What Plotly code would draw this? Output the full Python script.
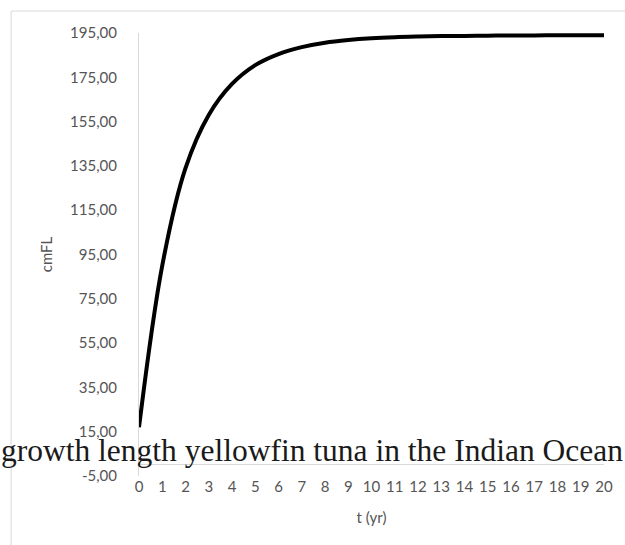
import plotly.graph_objects as go

# Data
t_years = [0, 1, 2, 3, 4, 5, 6, 7, 8, 9, 10, 11, 12, 13, 14, 15, 16, 17, 18, 19, 20]
length_cm = [17.0, 90.0, 134.0, 158.0, 172.0, 180.5, 185.5, 188.6, 190.6, 191.8,
             192.6, 193.1, 193.4, 193.6, 193.7, 193.8, 193.9, 193.9, 194.0, 194.0, 194.0]

y_tick_vals = [-5, 15, 35, 55, 75, 95, 115, 135, 155, 175, 195]
y_tick_text = ["-5,00", "15,00", "35,00", "55,00", "75,00", "95,00",
               "115,00", "135,00", "155,00", "175,00", "195,00"]
x_tick_vals = list(range(21))
x_tick_text = [str(v) for v in x_tick_vals]

chart_title = "growth length yellowfin tuna in the Indian Ocean"
x_title = "t (yr)"
y_title = "cmFL"

W, H = 625, 545
L, R, T, B = 139, 17, 33, 69
PW, PH = W - L - R, H - T - B

def px_x(px):
    return (px - L) / PW

def px_y(py):
    return (H - B - py) / PH

label_font = dict(family="Lato, Calibri, Carlito, sans-serif", size=15, color="#555555")

fig = go.Figure()
fig.add_trace(go.Scatter(
    x=t_years, y=length_cm, mode="lines",
    line=dict(color="black", width=4, shape="spline", smoothing=1.0),
    showlegend=False, hoverinfo="x+y",
))

fig.update_layout(
    width=W, height=H, autosize=False,
    margin=dict(l=L, r=R, t=T, b=B, pad=0),
    paper_bgcolor="white", plot_bgcolor="white",
    font=label_font,
    xaxis=dict(
        range=[0, 20], tickvals=x_tick_vals, ticktext=x_tick_text,
        showgrid=False, zeroline=False, showline=False, ticks="",
        tickfont=label_font,
        title=dict(text=x_title, font=label_font, standoff=18),
    ),
    yaxis=dict(
        range=[-5, 195], tickvals=y_tick_vals, ticktext=y_tick_text,
        showgrid=False, zeroline=True, zerolinecolor="#d9d9d9", zerolinewidth=1,
        showline=True, linecolor="#d9d9d9", linewidth=1, ticks="",
        ticklabelstandoff=18,
        tickfont=label_font,
        title=dict(text=y_title, font=label_font, standoff=13),
    ),
    shapes=[dict(
        type="rect", xref="paper", yref="paper",
        x0=px_x(10), x1=px_x(640), y0=px_y(560), y1=px_y(11),
        line=dict(color="#d9d9d9", width=1), fillcolor="rgba(0,0,0,0)", layer="below",
    )],
    annotations=[dict(
        text=chart_title, xref="paper", yref="paper",
        x=px_x(-2), y=px_y(450), xanchor="left", yanchor="middle",
        showarrow=False,
        font=dict(family="Liberation Serif, Times New Roman, serif", size=31.5, color="#1a1a1a"),
    )],
)

fig.write_html("out.html")
